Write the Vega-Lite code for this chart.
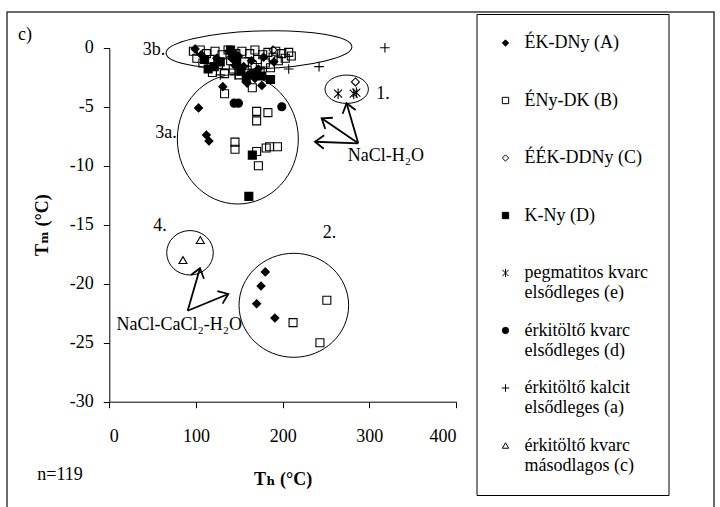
{
  "$schema": "https://vega.github.io/schema/vega-lite/v6.json",
  "width": 707,
  "height": 500,
  "autosize": {"type": "none"},
  "padding": {"left": 7, "top": 12, "right": 6, "bottom": 0},
  "background": "white",
  "config": {
    "font": "Liberation Serif, Times New Roman, DejaVu Serif, serif",
    "view": {"stroke": "#3a3a3a", "strokeWidth": 1.5},
    "axis": {
      "grid": false, "domainColor": "black", "tickColor": "black", "labelColor": "black", "titleColor": "black",
      "labelFont": "Liberation Serif, Times New Roman, DejaVu Serif, serif", "titleFont": "Liberation Serif, Times New Roman, DejaVu Serif, serif", "labelFontSize": 18, "titleFontSize": 18,
      "titleFontWeight": "bold", "tickSize": 6, "domainWidth": 1, "tickWidth": 1, "labelExpr": "'' + datum.value"
    },
    "legend": {
      "labelFont": "Liberation Serif, Times New Roman, DejaVu Serif, serif", "labelFontSize": 18, "labelColor": "black",
      "symbolStrokeColor": "black", "symbolStrokeWidth": 1, "symbolSize": 40
    }
  },
  "datasets": {
    "groups": [
      {"g": "A", "name": "ÉK-DNy (A)"},
      {"g": "B", "name": "ÉNy-DK (B)"},
      {"g": "C", "name": "ÉÉK-DDNy (C)"},
      {"g": "D", "name": "K-Ny (D)"},
      {"g": "e", "name": "pegmatitos kvarc elsődleges (e)"},
      {"g": "d", "name": "érkitöltő kvarc elsődleges (d)"},
      {"g": "a", "name": "érkitöltő kalcit elsődleges (a)"},
      {"g": "c", "name": "érkitöltő kvarc másodlagos (c)"}
    ],
    "points": [
      {"g": "B", "Th": 97, "Tm": -0.3}, {"g": "B", "Th": 101, "Tm": -0.9}, {"g": "B", "Th": 105, "Tm": -0.2},
      {"g": "B", "Th": 108, "Tm": -1.3}, {"g": "B", "Th": 112, "Tm": -0.5}, {"g": "B", "Th": 116, "Tm": -1.0},
      {"g": "B", "Th": 119, "Tm": -2.1}, {"g": "B", "Th": 122, "Tm": -0.3}, {"g": "B", "Th": 126, "Tm": -1.4},
      {"g": "B", "Th": 130, "Tm": -0.6}, {"g": "B", "Th": 133, "Tm": -2.2}, {"g": "B", "Th": 137, "Tm": -0.2},
      {"g": "B", "Th": 140, "Tm": -1.1}, {"g": "B", "Th": 143, "Tm": -1.8}, {"g": "B", "Th": 146, "Tm": -0.5},
      {"g": "B", "Th": 150, "Tm": -2.3}, {"g": "B", "Th": 153, "Tm": -0.3}, {"g": "B", "Th": 156, "Tm": -1.2},
      {"g": "B", "Th": 159, "Tm": -1.9}, {"g": "B", "Th": 162, "Tm": -0.5}, {"g": "B", "Th": 165, "Tm": -1.5},
      {"g": "B", "Th": 168, "Tm": -0.2}, {"g": "B", "Th": 171, "Tm": -1.0}, {"g": "B", "Th": 174, "Tm": -2.0},
      {"g": "B", "Th": 177, "Tm": -0.6}, {"g": "B", "Th": 180, "Tm": -1.3}, {"g": "B", "Th": 183, "Tm": -0.4},
      {"g": "B", "Th": 186, "Tm": -1.7}, {"g": "B", "Th": 189, "Tm": -0.8}, {"g": "B", "Th": 192, "Tm": -0.3},
      {"g": "B", "Th": 195, "Tm": -1.1}, {"g": "B", "Th": 199, "Tm": -0.5}, {"g": "B", "Th": 203, "Tm": -0.9},
      {"g": "B", "Th": 207, "Tm": -0.4}, {"g": "B", "Th": 210, "Tm": -0.7},
      {"g": "A", "Th": 99, "Tm": -0.1}, {"g": "A", "Th": 106, "Tm": -0.6}, {"g": "A", "Th": 124, "Tm": -0.9},
      {"g": "A", "Th": 138, "Tm": -0.3}, {"g": "A", "Th": 141, "Tm": -0.9}, {"g": "A", "Th": 145, "Tm": -1.5},
      {"g": "A", "Th": 149, "Tm": -0.7}, {"g": "A", "Th": 155, "Tm": -1.6}, {"g": "A", "Th": 160, "Tm": -2.3},
      {"g": "A", "Th": 164, "Tm": -1.1}, {"g": "A", "Th": 168, "Tm": -2.6}, {"g": "A", "Th": 172, "Tm": -1.8},
      {"g": "A", "Th": 178, "Tm": -0.8}, {"g": "A", "Th": 190, "Tm": -1.2},
      {"g": "D", "Th": 110, "Tm": -1.0}, {"g": "D", "Th": 114, "Tm": -1.8}, {"g": "D", "Th": 121, "Tm": -1.6},
      {"g": "D", "Th": 128, "Tm": -1.2}, {"g": "D", "Th": 140, "Tm": -0.2}, {"g": "D", "Th": 142, "Tm": -0.6},
      {"g": "D", "Th": 147, "Tm": -1.3}, {"g": "D", "Th": 152, "Tm": -2.0}, {"g": "D", "Th": 158, "Tm": -2.6},
      {"g": "D", "Th": 166, "Tm": -2.2}, {"g": "D", "Th": 176, "Tm": -2.4}, {"g": "D", "Th": 186, "Tm": -2.7},
      {"g": "C", "Th": 189, "Tm": -0.2}, {"g": "C", "Th": 284, "Tm": -2.9},
      {"g": "B", "Th": 133, "Tm": -3.9}, {"g": "B", "Th": 165, "Tm": -3.4}, {"g": "B", "Th": 170, "Tm": -5.4},
      {"g": "B", "Th": 170, "Tm": -6.2}, {"g": "B", "Th": 183, "Tm": -5.5}, {"g": "B", "Th": 145, "Tm": -8.0},
      {"g": "B", "Th": 145, "Tm": -8.6}, {"g": "B", "Th": 170, "Tm": -8.8}, {"g": "B", "Th": 181, "Tm": -8.5},
      {"g": "B", "Th": 185, "Tm": -8.4}, {"g": "B", "Th": 194, "Tm": -8.4}, {"g": "B", "Th": 172, "Tm": -10.0},
      {"g": "A", "Th": 131, "Tm": -3.3}, {"g": "A", "Th": 159, "Tm": -3.0}, {"g": "A", "Th": 176, "Tm": -3.2},
      {"g": "A", "Th": 103, "Tm": -5.1}, {"g": "A", "Th": 112, "Tm": -7.4}, {"g": "A", "Th": 115, "Tm": -7.9},
      {"g": "D", "Th": 165, "Tm": -9.1}, {"g": "D", "Th": 161, "Tm": -12.6},
      {"g": "d", "Th": 144, "Tm": -4.7}, {"g": "d", "Th": 149, "Tm": -4.7}, {"g": "d", "Th": 199, "Tm": -5.0},
      {"g": "e", "Th": 264, "Tm": -3.9}, {"g": "e", "Th": 282, "Tm": -3.9}, {"g": "e", "Th": 285, "Tm": -3.8},
      {"g": "a", "Th": 128, "Tm": -2.3}, {"g": "a", "Th": 145, "Tm": -2.3}, {"g": "a", "Th": 170, "Tm": -2.0},
      {"g": "a", "Th": 207, "Tm": -1.8}, {"g": "a", "Th": 242, "Tm": -1.6}, {"g": "a", "Th": 318, "Tm": 0.0},
      {"g": "A", "Th": 180, "Tm": -19.0}, {"g": "A", "Th": 175, "Tm": -20.2}, {"g": "A", "Th": 170, "Tm": -21.7},
      {"g": "A", "Th": 191, "Tm": -22.9},
      {"g": "B", "Th": 212, "Tm": -23.3}, {"g": "B", "Th": 243, "Tm": -25.0}, {"g": "B", "Th": 251, "Tm": -21.4},
      {"g": "c", "Th": 105, "Tm": -16.3}, {"g": "c", "Th": 85, "Tm": -18.0}
    ],
    "arrows": [
      {"system": "NaCl-H2O", "Th0": 287.2, "Tm0": -8.1, "Th": 273.8, "Tm": -4.71},
      {"system": "NaCl-H2O", "Th0": 287.2, "Tm0": -8.1, "Th": 245.0, "Tm": -5.98},
      {"system": "NaCl-H2O", "Th0": 287.2, "Tm0": -8.1, "Th": 237.3, "Tm": -7.97},
      {"system": "NaCl-CaCl2-H2O", "Th0": 90.4, "Tm0": -22.29, "Th": 104.6, "Tm": -18.69},
      {"system": "NaCl-CaCl2-H2O", "Th0": 90.4, "Tm0": -22.29, "Th": 137.3, "Tm": -20.87}
    ],
    "notes": [
      {"label": "3b.", "Th": 51.6, "Tm": -0.19},
      {"label": "3a.", "Th": 65.4, "Tm": -7.23},
      {"label": "1.", "Th": 315.8, "Tm": -3.92},
      {"label": "2.", "Th": 254.0, "Tm": -15.7},
      {"label": "4.", "Th": 58.5, "Tm": -15.1},
      {"label": "NaCl-H₂O", "Th": 319.2, "Tm": -9.18},
      {"label": "NaCl-CaCl₂-H₂O", "Th": 80.6, "Tm": -23.5},
      {"label": "c)", "Th": -97.3, "Tm": 1.08},
      {"label": "n=119", "Th": -56.9, "Tm": -36.2}
    ]
  },
  "encoding": {
    "x": {
      "field": "Th", "type": "quantitative",
      "scale": {"domain": [0, 400], "range": [102.3, 449], "nice": false, "zero": false},
      "axis": {"title": "Tₕ (°C)", "values": [0, 100, 200, 300, 400], "offset": -110.3, "labelPadding": 20, "titlePadding": 25}
    },
    "y": {
      "field": "Tm", "type": "quantitative",
      "scale": {"domain": [-30, 0], "range": [389.7, 35.7], "nice": false, "zero": false},
      "axis": {"title": "Tₘ  (°C)", "values": [-30, -25, -20, -15, -10, -5, 0], "offset": -102.3, "labelPadding": 10, "titlePadding": 18}
    }
  },
  "layer": [
    {
      "data": {"values": [{"Th": 172.7, "Tm": -0.19}]},
      "mark": {"type": "point", "filled": false, "stroke": "black", "strokeWidth": 1, "opacity": 1, "angle": -2, "size": 34596,
        "shape": "M-1,0C-1,-0.113,-0.552,-0.204,0,-0.204C0.552,-0.204,1,-0.113,1,0C1,0.113,0.552,0.204,0,0.204C-0.552,0.204,-1,0.113,-1,0Z"}
    },
    {
      "data": {"values": [{"Th": 148.3, "Tm": -7.74}]},
      "mark": {"type": "point", "filled": false, "stroke": "black", "strokeWidth": 1, "opacity": 1, "size": 14641,
        "shape": "M-1,0C-1,-0.593,-0.552,-1.074,0,-1.074C0.552,-1.074,1,-0.593,1,0C1,0.593,0.552,1.074,0,1.074C-0.552,1.074,-1,0.593,-1,0Z"}
    },
    {
      "data": {"values": [{"Th": 273.9, "Tm": -3.52}]},
      "mark": {"type": "point", "filled": false, "stroke": "black", "strokeWidth": 1, "opacity": 1, "size": 1884,
        "shape": "M-1,0C-1,-0.361,-0.552,-0.654,0,-0.654C0.552,-0.654,1,-0.361,1,0C1,0.361,0.552,0.654,0,0.654C-0.552,0.654,-1,0.361,-1,0Z"}
    },
    {
      "data": {"values": [{"Th": 212.9, "Tm": -21.83}]},
      "mark": {"type": "point", "filled": false, "stroke": "black", "strokeWidth": 1, "opacity": 1, "size": 12012,
        "shape": "M-1,0C-1,-0.524,-0.552,-0.949,0,-0.949C0.552,-0.949,1,-0.524,1,0C1,0.524,0.552,0.949,0,0.949C-0.552,0.949,-1,0.524,-1,0Z"}
    },
    {
      "data": {"values": [{"Th": 93.1, "Tm": -17.38}]},
      "mark": {"type": "point", "filled": false, "stroke": "black", "strokeWidth": 1, "opacity": 1, "size": 2172,
        "shape": "M-1,0C-1,-0.526,-0.552,-0.953,0,-0.953C0.552,-0.953,1,-0.526,1,0C1,0.526,0.552,0.953,0,0.953C-0.552,0.953,-1,0.526,-1,0Z"}
    },
    {
      "data": {"name": "arrows"},
      "mark": {"type": "rule", "stroke": "black", "strokeWidth": 1.8},
      "encoding": {"x2": {"field": "Th0"}, "y2": {"field": "Tm0"}}
    },
    {
      "data": {"name": "arrows"},
      "transform": [
        {"calculate": "atan2(-(datum.Tm - datum.Tm0) * 11.8, (datum.Th - datum.Th0) * 0.8667) * 180 / PI", "as": "ang"}
      ],
      "mark": {"type": "point", "filled": false, "stroke": "black", "strokeWidth": 1.8, "opacity": 1, "size": 324,
        "shape": "M-1,-0.75L0,0L-1,0.75"},
      "encoding": {"angle": {"field": "ang", "type": "quantitative", "scale": null}}
    },
    {
      "data": {"name": "notes"},
      "mark": {"type": "text", "font": "Liberation Serif, Times New Roman, DejaVu Serif, serif", "fontSize": 18, "align": "center", "baseline": "middle", "color": "black"},
      "encoding": {"text": {"field": "label"}}
    },
    {
      "data": {"name": "points"},
      "transform": [
        {"lookup": "g", "from": {"data": {"name": "groups"}, "key": "g", "fields": ["name"]}}
      ],
      "mark": {"type": "point", "filled": false, "color": "black", "strokeWidth": 1.1, "opacity": 1, "size": 64},
      "encoding": {
        "shape": {
          "field": "name", "type": "nominal",
          "scale": {
            "domain": ["ÉK-DNy (A)", "ÉNy-DK (B)", "ÉÉK-DDNy (C)", "K-Ny (D)", "pegmatitos kvarc elsődleges (e)", "érkitöltő kvarc elsődleges (d)", "érkitöltő kalcit elsődleges (a)", "érkitöltő kvarc másodlagos (c)"],
            "range": ["diamond", "square", "diamond", "square", "M-1,-1L1,1M-1,1L1,-1M0,-1.3L0,1.3", "circle", "M-1.2,0L1.2,0M0,-1.2L0,1.2", "triangle-up"]
          },
          "legend": {
            "title": null, "orient": "none", "legendX": 469.5, "legendY": 2,
            "padding": 20, "rowPadding": 19.5, "strokeColor": "black", "fillColor": "white",
            "labelFont": "Liberation Serif, Times New Roman, DejaVu Serif, serif", "labelFontSize": 18, "labelColor": "black", "labelLimit": 400, "labelOffset": 10,
            "symbolSize": 40, "symbolStrokeColor": "black", "symbolStrokeWidth": 1,
            "labelExpr": "length(datum.label) > 15 ? [slice(datum.label, 0, lastindexof(slice(datum.label, 0, lastindexof(datum.label, ' ')), ' ')), slice(datum.label, lastindexof(slice(datum.label, 0, lastindexof(datum.label, ' ')), ' ') + 1)] : [datum.label, '']",
            "encode": {
              "labels": {"update": {"font": {"value": "Liberation Serif, Times New Roman, DejaVu Serif, serif"}}}
            }
          }
        },
        "fill": {
          "field": "name", "type": "nominal",
          "scale": {
            "domain": ["ÉK-DNy (A)", "ÉNy-DK (B)", "ÉÉK-DDNy (C)", "K-Ny (D)", "pegmatitos kvarc elsődleges (e)", "érkitöltő kvarc elsődleges (d)", "érkitöltő kalcit elsődleges (a)", "érkitöltő kvarc másodlagos (c)"],
            "range": ["black", "transparent", "transparent", "black", "black", "black", "black", "transparent"]
          },
          "legend": {
            "title": null, "orient": "none", "legendX": 469.5, "legendY": 2,
            "padding": 20, "rowPadding": 19.5, "strokeColor": "black", "fillColor": "white",
            "labelFont": "Liberation Serif, Times New Roman, DejaVu Serif, serif", "labelFontSize": 18, "labelColor": "black", "labelLimit": 400, "labelOffset": 10,
            "symbolSize": 40, "symbolStrokeColor": "black", "symbolStrokeWidth": 1,
            "labelExpr": "length(datum.label) > 15 ? [slice(datum.label, 0, lastindexof(slice(datum.label, 0, lastindexof(datum.label, ' ')), ' ')), slice(datum.label, lastindexof(slice(datum.label, 0, lastindexof(datum.label, ' ')), ' ') + 1)] : [datum.label, '']",
            "encode": {
              "labels": {"update": {"font": {"value": "Liberation Serif, Times New Roman, DejaVu Serif, serif"}}}
            }
          }
        },
        "stroke": {
          "field": "name", "type": "nominal",
          "scale": {
            "domain": ["ÉK-DNy (A)", "ÉNy-DK (B)", "ÉÉK-DDNy (C)", "K-Ny (D)", "pegmatitos kvarc elsődleges (e)", "érkitöltő kvarc elsődleges (d)", "érkitöltő kalcit elsődleges (a)", "érkitöltő kvarc másodlagos (c)"],
            "range": ["black", "black", "black", "black", "black", "black", "black", "black"]
          },
          "legend": {
            "title": null, "orient": "none", "legendX": 469.5, "legendY": 2,
            "padding": 20, "rowPadding": 19.5, "strokeColor": "black", "fillColor": "white",
            "labelFont": "Liberation Serif, Times New Roman, DejaVu Serif, serif", "labelFontSize": 18, "labelColor": "black", "labelLimit": 400, "labelOffset": 10,
            "symbolSize": 40, "symbolStrokeColor": "black", "symbolStrokeWidth": 1,
            "labelExpr": "length(datum.label) > 15 ? [slice(datum.label, 0, lastindexof(slice(datum.label, 0, lastindexof(datum.label, ' ')), ' ')), slice(datum.label, lastindexof(slice(datum.label, 0, lastindexof(datum.label, ' ')), ' ') + 1)] : [datum.label, '']",
            "encode": {
              "labels": {"update": {"font": {"value": "Liberation Serif, Times New Roman, DejaVu Serif, serif"}}}
            }
          }
        }
      }
    }
  ]
}
